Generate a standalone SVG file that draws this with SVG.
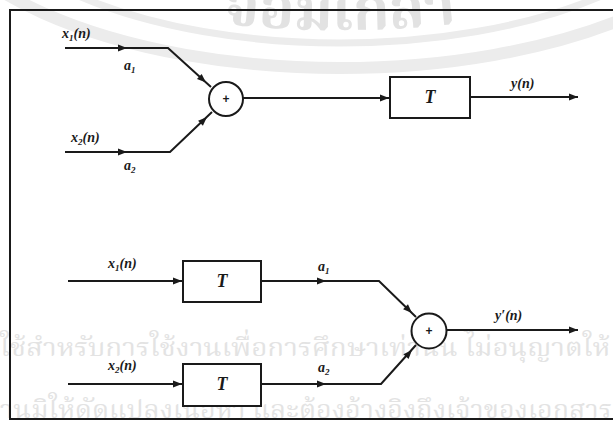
<svg xmlns="http://www.w3.org/2000/svg" xmlns:xlink="http://www.w3.org/1999/xlink" width="613" height="421" viewBox="0 0 613 421">
<style>
.ln{fill:none;stroke:#1a1a1a;stroke-width:2;stroke-linejoin:miter}
.bx{fill:#fff;stroke:#1a1a1a;stroke-width:2}
.lb{font-family:"Liberation Serif",serif;font-style:italic;font-weight:bold;font-size:14px;fill:#1a1a1a}
.sb{font-size:9px}
.tt{font-family:"Liberation Serif",serif;font-style:italic;font-weight:bold;font-size:18px;fill:#1a1a1a;text-anchor:middle}
.pl{font-family:"Liberation Sans",sans-serif;font-weight:bold;font-size:12px;fill:#1a1a1a;text-anchor:middle}
.wm{font-family:"Noto Serif Thai","Noto Sans Thai Looped","Noto Sans Thai","Noto Sans","DejaVu Sans",sans-serif;font-size:25px;fill:#e3e3e3}
.seal{font-family:"Noto Serif Thai","Noto Sans Thai Looped","Noto Sans Thai","Noto Sans","DejaVu Sans",sans-serif;font-size:58px;font-weight:bold;fill:#e2e2e2}
.band{fill:none;stroke:#ececec}
</style>
<defs>
<path id="ah" d="M0,0 L-9,-3.5 L-9,3.5 Z" fill="#1a1a1a"/>
<path id="arcT" d="M100,0 A400,150 0 0 0 580,0"/>
</defs>
<rect width="613" height="421" fill="#fff"/>
<g id="watermark">
<ellipse class="band" cx="340" cy="-120" rx="420" ry="188" stroke-width="12"/>
<ellipse class="band" cx="340" cy="-120" rx="372" ry="163" stroke-width="7"/>
<text class="seal"><textPath xlink:href="#arcT" startOffset="50%" text-anchor="middle">จอมเกล้า</textPath></text>
<text class="wm" x="0" y="356" textLength="610" lengthAdjust="spacingAndGlyphs">ใช้สำหรับการใช้งานเพื่อการศึกษาเท่านั้น ไม่อนุญาตให้</text>
<text class="wm" x="0" y="418" textLength="612" lengthAdjust="spacingAndGlyphs">านมิให้ดัดแปลงเนื้อหา และต้องอ้างอิงถึงเจ้าของเอกสาร</text>
</g>
<path id="frame" class="ln" d="M613,10 L10,10 L10,419 L613,419"/>
<g id="connectors">
<path class="ln" d="M65,48 L168,48 L211,87"/>
<path class="ln" d="M65,152 L170,152 L212,112"/>
<path class="ln" d="M243,98 L390,98"/>
<path class="ln" d="M470,97 L578,97"/>
<path class="ln" d="M68,281 L183,281"/>
<path class="ln" d="M68,384 L183,384"/>
<path class="ln" d="M261,281 L379,281 L416,317"/>
<path class="ln" d="M261,384 L381,384 L416,345"/>
<path class="ln" d="M447,330 L578,330"/>
<use xlink:href="#ah" transform="translate(127,48)"/>
<use xlink:href="#ah" transform="translate(127,152)"/>
<use xlink:href="#ah" transform="translate(206,82.5) rotate(42)"/>
<use xlink:href="#ah" transform="translate(207,117) rotate(-43.6)"/>
<use xlink:href="#ah" transform="translate(389,98)"/>
<use xlink:href="#ah" transform="translate(578,97)"/>
<use xlink:href="#ah" transform="translate(182,281)"/>
<use xlink:href="#ah" transform="translate(182,384)"/>
<use xlink:href="#ah" transform="translate(326,281)"/>
<use xlink:href="#ah" transform="translate(326,384)"/>
<use xlink:href="#ah" transform="translate(412,313) rotate(44)"/>
<use xlink:href="#ah" transform="translate(412,350) rotate(-48)"/>
<use xlink:href="#ah" transform="translate(578,330)"/>
</g>
<g id="sum1">
<circle class="bx" cx="226" cy="99" r="17"/>
<text class="pl" x="226" y="103">+</text>
</g>
<g id="T1">
<rect class="bx" x="390" y="77" width="80" height="41"/>
<text class="tt" x="430" y="103">T</text>
</g>
<g id="T2">
<rect class="bx" x="183" y="261" width="78" height="41"/>
<text class="tt" x="222" y="287">T</text>
</g>
<g id="T3">
<rect class="bx" x="183" y="364" width="78" height="42"/>
<text class="tt" x="222" y="390">T</text>
</g>
<g id="sum2">
<circle class="bx" cx="429" cy="331" r="17.5"/>
<text class="pl" x="429" y="335">+</text>
</g>
<g id="labels">
<text class="lb" x="62" y="38">x<tspan class="sb" dy="3">1</tspan><tspan dy="-3">(n)</tspan></text>
<text class="lb" x="124" y="70">a<tspan class="sb" dy="3">1</tspan></text>
<text class="lb" x="71" y="142">x<tspan class="sb" dy="3">2</tspan><tspan dy="-3">(n)</tspan></text>
<text class="lb" x="124" y="170">a<tspan class="sb" dy="3">2</tspan></text>
<text class="lb" x="511" y="88">y(n)</text>
<text class="lb" x="108" y="268">x<tspan class="sb" dy="3">1</tspan><tspan dy="-3">(n)</tspan></text>
<text class="lb" x="108" y="370">x<tspan class="sb" dy="3">2</tspan><tspan dy="-3">(n)</tspan></text>
<text class="lb" x="318" y="271">a<tspan class="sb" dy="3">1</tspan></text>
<text class="lb" x="318" y="372">a<tspan class="sb" dy="3">2</tspan></text>
<text class="lb" x="495" y="320">y′(n)</text>
</g>
</svg>
